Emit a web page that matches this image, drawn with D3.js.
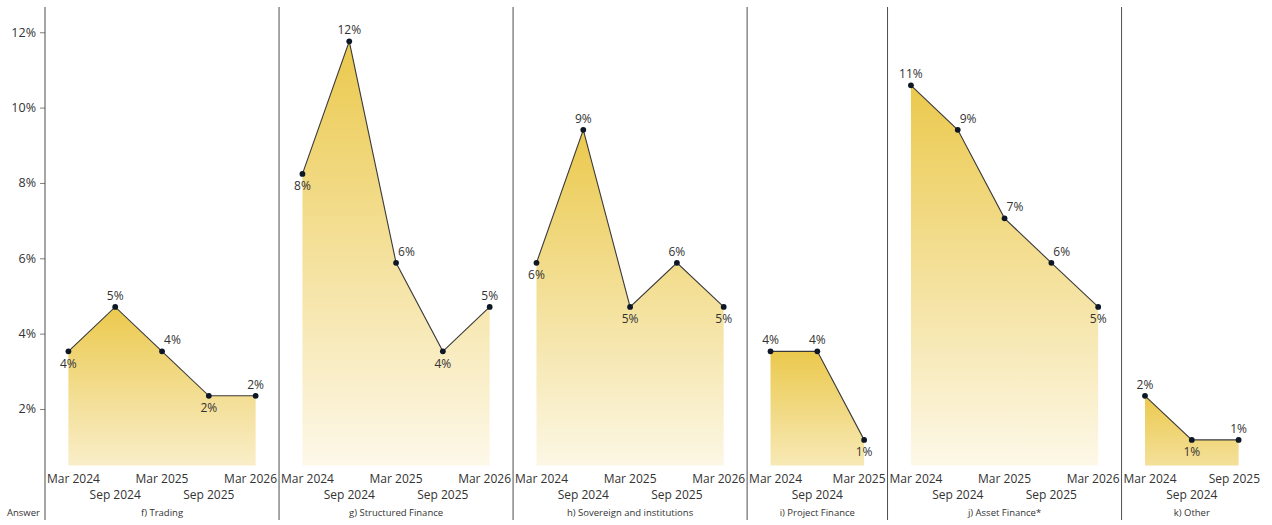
<!DOCTYPE html>
<html>
<head>
<meta charset="utf-8">
<script src="https://cdn.jsdelivr.net/npm/d3@7"></script>
<style>
  html, body { margin: 0; padding: 0; background: #fff; }
  svg text { font-family: "Open Sans", "Noto Sans", sans-serif; fill: #333; }
</style>
</head>
<body>
<svg id="chart" width="1272" height="525"></svg>
<script>
// ---- data ----
const panelNames = ["f) Trading", "g) Structured Finance", "h) Sovereign and institutions", "i) Project Finance", "j) Asset Finance*", "k) Other"];
const periodsFull = ["Mar 2024", "Sep 2024", "Mar 2025", "Sep 2025", "Mar 2026"];
const periodsProject = ["Mar 2024", "Sep 2024", "Mar 2025"];
const periodsOther = ["Mar 2024", "Sep 2024", "Sep 2025"];
const trading = [3.53, 4.71, 3.53, 2.35, 2.35];
const structuredFinance = [8.24, 11.76, 5.88, 3.53, 4.71];
const sovereign = [5.88, 9.41, 4.71, 5.88, 4.71];
const projectFinance = [3.53, 3.53, 1.18];
const assetFinance = [10.59, 9.41, 7.06, 5.88, 4.71];
const other = [2.35, 1.18, 1.18];
const yTicks = [2, 4, 6, 8, 10, 12];
const axisTitle = "Answer";

// label placement (style, not data): b = below, a = above, r = above-right
const labelPos = [
  ["b", "a", "r", "b", "a"],
  ["b", "a", "r", "b", "a"],
  ["b", "a", "b", "a", "b"],
  ["a", "a", "b"],
  ["a", "r", "r", "r", "b"],
  ["a", "b", "a"]
];

const panelPeriods = [periodsFull, periodsFull, periodsFull, periodsProject, periodsFull, periodsOther];
const panelValues = [trading, structuredFinance, sovereign, projectFinance, assetFinance, other];

(function () {
// ---- build flat category list ----
const cats = [];
panelNames.forEach((p, pi) => {
  panelPeriods[pi].forEach((per, i) => cats.push({ key: pi + "|" + i, panel: pi, idx: i, period: per, value: panelValues[pi][i] }));
});

const svg = d3.select("#chart");
const plotLeft = 45, plotRight = 1262, plotTop = 7, plotBottom = 465.5, axisBottom = 520;

const x = d3.scaleBand().domain(cats.map(d => d.key)).range([plotLeft, plotRight]).padding(0);
const y = d3.scaleLinear().domain([0.5, 12.67]).range([plotBottom, plotTop]);
const cx = d => x(d.key) + x.bandwidth() / 2;

const defs = svg.append("defs");
const gold = "#ebc94d", pale = "#fdf9ec";

// ---- areas, lines, markers ----
panelNames.forEach((p, pi) => {
  const pts = cats.filter(d => d.panel === pi);
  const topY = y(d3.max(pts, d => d.value));
  const h = plotBottom - topY;
  const endCol = d3.interpolateRgb(gold, pale)(1 - Math.exp(-h / 105));
  const grad = defs.append("linearGradient").attr("id", "g" + pi)
    .attr("x1", 0).attr("y1", 0).attr("x2", 0).attr("y2", 1);
  grad.append("stop").attr("offset", 0).attr("stop-color", gold);
  grad.append("stop").attr("offset", 1).attr("stop-color", endCol);

  const area = d3.area().x(cx).y0(y(0.5)).y1(d => y(d.value));
  svg.append("path").datum(pts).attr("d", area).attr("fill", "url(#g" + pi + ")");
  const line = d3.line().x(cx).y(d => y(d.value));
  svg.append("path").datum(pts).attr("d", line).attr("fill", "none")
    .attr("stroke", "#3a3a3a").attr("stroke-width", 1.1);
  svg.selectAll(null).data(pts).enter().append("circle")
    .attr("cx", cx).attr("cy", d => y(d.value)).attr("r", 2.9).attr("fill", "#0d1726");

  // data labels
  svg.selectAll(null).data(pts).enter().append("text")
    .attr("x", d => labelPos[pi][d.idx] === "r" ? cx(d) + 2 : cx(d))
    .attr("y", d => labelPos[pi][d.idx] === "b" ? y(d.value) + 16.5 : y(d.value) - 7)
    .attr("text-anchor", d => labelPos[pi][d.idx] === "r" ? "start" : "middle")
    .attr("font-size", 12)
    .text(d => Math.round(d.value) + "%");
});

// ---- y axis ----
const yAxis = svg.append("g").attr("transform", `translate(${plotLeft},0)`)
  .call(d3.axisLeft(y).tickValues(yTicks).tickSize(5).tickFormat(d => d + "%"));
yAxis.select(".domain").remove();
yAxis.selectAll(".tick line").attr("stroke", "#7f7f7f");
yAxis.selectAll(".tick text").attr("font-size", 12.5).attr("x", -9).attr("fill", "#404040")
  .style("font-family", "'Open Sans', sans-serif");

// ---- separators ----
const seps = [plotLeft];
panelNames.forEach((p, pi) => {
  const pts = cats.filter(d => d.panel === pi);
  if (pi > 0) seps.push(x(pts[0].key));
});
svg.selectAll(null).data(seps).enter().append("line")
  .attr("x1", d => d).attr("x2", d => d).attr("y1", plotTop).attr("y2", axisBottom)
  .attr("stroke", "#4d4d4d").attr("stroke-width", 1);

// ---- x labels (staggered, clamped to panel) ----
panelNames.forEach((p, pi) => {
  const pts = cats.filter(d => d.panel === pi);
  const pl = x(pts[0].key), pr = x(pts[pts.length - 1].key) + x.bandwidth();
  pts.forEach(d => {
    const t = svg.append("text").attr("font-size", 12).attr("text-anchor", "start")
      .attr("y", d.idx % 2 === 0 ? 483 : 499).text(d.period);
    const w = t.node().getComputedTextLength();
    let lx = cx(d) - w / 2;
    lx = Math.max(lx, pl + 2);
    lx = Math.min(lx, pr - 2 - w);
    t.attr("x", lx);
  });
  svg.append("text").attr("x", (pl + pr) / 2).attr("y", 515.5).attr("text-anchor", "middle")
    .attr("font-size", 9.5).text(p);
});

svg.append("text").attr("x", 7).attr("y", 515.5).attr("font-size", 9.5).text(axisTitle);
})();
</script>
</body>
</html>
